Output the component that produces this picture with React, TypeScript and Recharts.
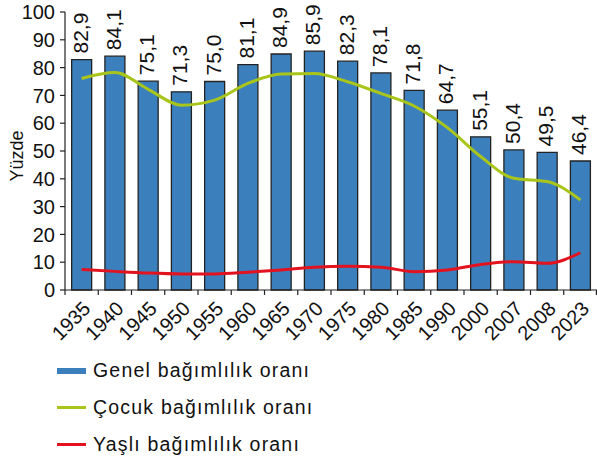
import React from "react";
import {
  ComposedChart,
  Bar,
  Line,
  XAxis,
  YAxis,
  LabelList,
  Legend,
} from "recharts";

const years = ["1935", "1940", "1945", "1950", "1955", "1960", "1965", "1970", "1975", "1980", "1985", "1990", "2000", "2007", "2008", "2023"];
const genel = [82.9, 84.1, 75.1, 71.3, 75.0, 81.1, 84.9, 85.9, 82.3, 78.1, 71.8, 64.7, 55.1, 50.4, 49.5, 46.4];
const cocuk = [76.1, 78.2, 72.2, 66.5, 68.3, 74.3, 77.7, 77.9, 74.9, 70.7, 66.2, 58.4, 48.0, 40.2, 39.0, 32.4];
const yasli = [7.4, 6.7, 6.1, 5.8, 5.8, 6.4, 7.2, 8.2, 8.5, 8.2, 6.6, 7.2, 9.2, 10.2, 9.6, 13.4];
const yTicks = [0, 10, 20, 30, 40, 50, 60, 70, 80, 90, 100];

const seriesNames = ["Genel bağımlılık oranı", "Çocuk bağımlılık oranı", "Yaşlı bağımlılık oranı"];
const seriesColors = ["#3b80bd", "#a9c51b", "#e3121f"];
const yLabel = "Yüzde";

const data = years.map((y, i) => ({
  year: y,
  genel: genel[i],
  cocuk: cocuk[i],
  yasli: yasli[i],
}));

const W = 597;
const H = 462;
const M = { top: 12, right: 0, left: 0, bottom: 112 };
const Y_AXIS_W = 65;
const X_AXIS_H = 60;
const FONT = "'Liberation Sans', Arial, sans-serif";
const AXIS_COLOR = "#222";

const plotW = W - M.left - M.right - Y_AXIS_W;
const band = plotW / years.length;

const XTick = (props: any) => {
  const { x, y, payload, index } = props;
  const left = x - band / 2;
  const right = x + band / 2;
  const tx = x + 10;
  const ty = y + 15;
  return (
    <g>
      <line x1={left} y1={y - 5} x2={left} y2={y} stroke={AXIS_COLOR} strokeWidth={1.2} />
      {index === years.length - 1 && (
        <line x1={right - 0.6} y1={y - 5} x2={right - 0.6} y2={y} stroke={AXIS_COLOR} strokeWidth={1.2} />
      )}
      <text
        x={tx}
        y={ty}
        textAnchor="end"
        fontSize={20}
        fontFamily={FONT}
        fill="#111"
        transform={`rotate(-45, ${tx}, ${ty})`}
      >
        {payload.value}
      </text>
    </g>
  );
};

const BarValueLabel = (props: any) => {
  const { x, y, width, value } = props;
  const tx = x + width / 2 + 6;
  const ty = y - 6;
  return (
    <text
      x={tx}
      y={ty}
      textAnchor="start"
      fontSize={21}
      fontFamily={FONT}
      fill="#111"
      transform={`rotate(-90, ${tx}, ${ty})`}
    >
      {Number(value).toFixed(1).replace(".", ",")}
    </text>
  );
};

const YLabel = (props: any) => {
  const { viewBox } = props;
  const tx = viewBox.x + 23;
  const ty = viewBox.y + viewBox.height / 2 + 5;
  return (
    <text
      x={tx}
      y={ty}
      textAnchor="middle"
      fontSize={18}
      fontFamily={FONT}
      fill="#111"
      transform={`rotate(-90, ${tx}, ${ty})`}
    >
      {yLabel}
    </text>
  );
};

const LegendContent = () => (
  <div style={{ fontFamily: FONT, fontSize: 19.5, letterSpacing: 1.2, color: "#111" }}>
    {seriesNames.map((name, i) => (
      <div key={name} style={{ display: "flex", alignItems: "center", height: 37 }}>
        <div
          style={{
            marginLeft: 57,
            width: 29,
            height: i === 0 ? 6 : 3,
            background: seriesColors[i],
          }}
        />
        <span style={{ marginLeft: 7, whiteSpace: "nowrap" }}>{name}</span>
      </div>
    ))}
  </div>
);

export default function App() {
  return (
    <div style={{ position: "absolute", left: 0, top: 0, width: W, height: H, background: "#fff" }}>
      <ComposedChart width={W} height={H} data={data} margin={M} barCategoryGap="20%">
        <XAxis
          dataKey="year"
          height={X_AXIS_H}
          interval={0}
          tickLine={false}
          tickSize={5}
          tickMargin={0}
          axisLine={{ stroke: AXIS_COLOR, strokeWidth: 1.2 }}
          tick={<XTick />}
        />
        <YAxis
          width={Y_AXIS_W}
          domain={[0, 100]}
          ticks={yTicks}
          interval={0}
          tickSize={5}
          tickMargin={5}
          axisLine={{ stroke: AXIS_COLOR, strokeWidth: 1.2 }}
          tickLine={{ stroke: AXIS_COLOR, strokeWidth: 1.2 }}
          tick={{ fontSize: 20, fontFamily: FONT, fill: "#111" }}
          label={<YLabel />}
        />
        <Legend
          layout="vertical"
          verticalAlign="middle"
          align="center"
          wrapperStyle={{ left: 0, top: 352, width: 420 }}
          content={<LegendContent />}
        />
        <Bar
          dataKey="genel"
          name={seriesNames[0]}
          fill={seriesColors[0]}
          stroke="#222"
          strokeWidth={1.3}
          isAnimationActive={false}
        >
          <LabelList dataKey="genel" content={<BarValueLabel />} />
        </Bar>
        <Line
          dataKey="cocuk"
          name={seriesNames[1]}
          type="monotone"
          stroke={seriesColors[1]}
          strokeWidth={3}
          dot={false}
          activeDot={false}
          isAnimationActive={false}
        />
        <Line
          dataKey="yasli"
          name={seriesNames[2]}
          type="monotone"
          stroke={seriesColors[2]}
          strokeWidth={3}
          dot={false}
          activeDot={false}
          isAnimationActive={false}
        />
      </ComposedChart>
    </div>
  );
}
